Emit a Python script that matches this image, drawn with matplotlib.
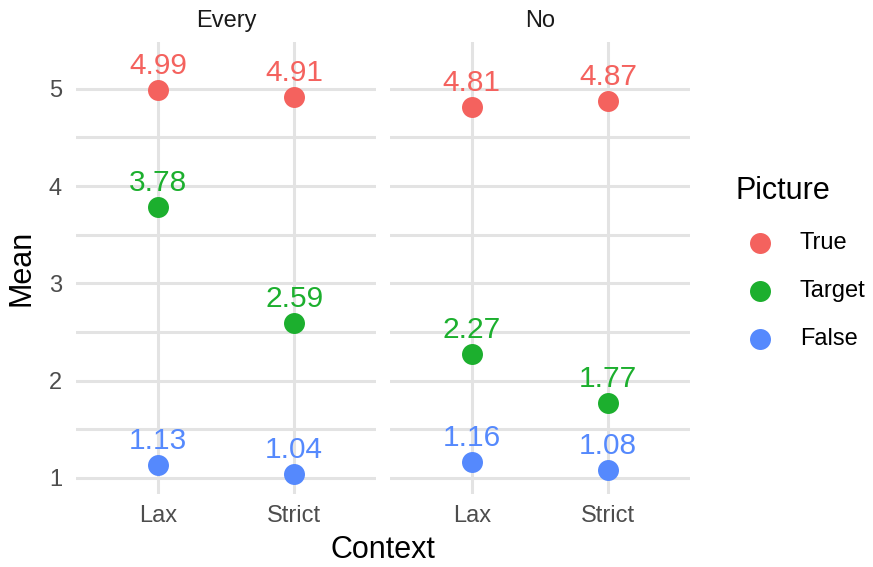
import matplotlib.pyplot as plt

plt.rcParams['font.family'] = ['Liberation Sans', 'DejaVu Sans']

quantifiers = ["Every", "No"]
contexts = ["Lax", "Strict"]
pictures = ["True", "Target", "False"]
colors = {"True": "#F4625E", "Target": "#1CAF2E", "False": "#5589FD"}

# mean per picture, one value per context (Lax, Strict)
means = {
    "Every": {"True": [4.99, 4.91], "Target": [3.78, 2.59], "False": [1.13, 1.04]},
    "No": {"True": [4.81, 4.87], "Target": [2.27, 1.77], "False": [1.16, 1.08]},
}

fig = plt.figure(figsize=(8.73, 5.67), dpi=100)
W, H = 873, 567
panel_lefts = [76, 390]
panel_w = 300
top, bottom = 42, 494

axes = []
for i, q in enumerate(quantifiers):
    ax = fig.add_axes([panel_lefts[i] / W, 1 - bottom / H, panel_w / W, (bottom - top) / H])
    axes.append(ax)
    xs = list(range(1, len(contexts) + 1))
    for p in pictures:
        ax.scatter(xs, means[q][p], s=228, color=colors[p], zorder=3, linewidths=0, label=p)
        for x, v in zip(xs, means[q][p]):
            ax.annotate(f"{v:.2f}", (x, v), xytext=(0, 11.5), textcoords="offset points",
                        ha="center", va="baseline", fontsize=21.5, color=colors[p])
    ax.set_xlim(0.4, 2.6)
    ax.set_ylim(0.835, 5.48)
    ax.set_xticks(xs)
    ax.set_xticklabels(contexts, fontsize=17, color="#4D4D4D")
    ax.set_yticks([1, 2, 3, 4, 5])
    ax.set_yticks([1.5, 2.5, 3.5, 4.5], minor=True)
    ax.tick_params(which="both", length=0)
    ax.tick_params(axis="x", pad=8)
    ax.tick_params(axis="y", pad=10, labelsize=17, labelcolor="#4D4D4D")
    ax.grid(True, which="major", color="#E3E3E3", linewidth=2.2)
    ax.grid(True, which="minor", axis="y", color="#E3E3E3", linewidth=2.2)
    ax.set_axisbelow(True)
    for s in ax.spines.values():
        s.set_visible(False)
    ax.set_title(q, fontsize=17, color="#1A1A1A", pad=11)
    if i > 0:
        ax.tick_params(axis="y", labelleft=False)

fig.text(22 / W, 1 - 268 / H, "Mean", rotation=90, ha="center", va="center", fontsize=22)
fig.text(383 / W, 1 - 550 / H, "Context", ha="center", va="center", fontsize=22)

handles, labels = axes[0].get_legend_handles_labels()
leg = fig.legend(handles, labels, title="Picture", loc="upper left",
                 bbox_to_anchor=(736 / W, 1 - 176 / H), frameon=False,
                 fontsize=17, title_fontsize=22, labelspacing=1.1,
                 handletextpad=0.7, markerscale=1.0, borderpad=0, borderaxespad=0)
leg._legend_box.align = "left"

fig.savefig("out.png", dpi=100)
